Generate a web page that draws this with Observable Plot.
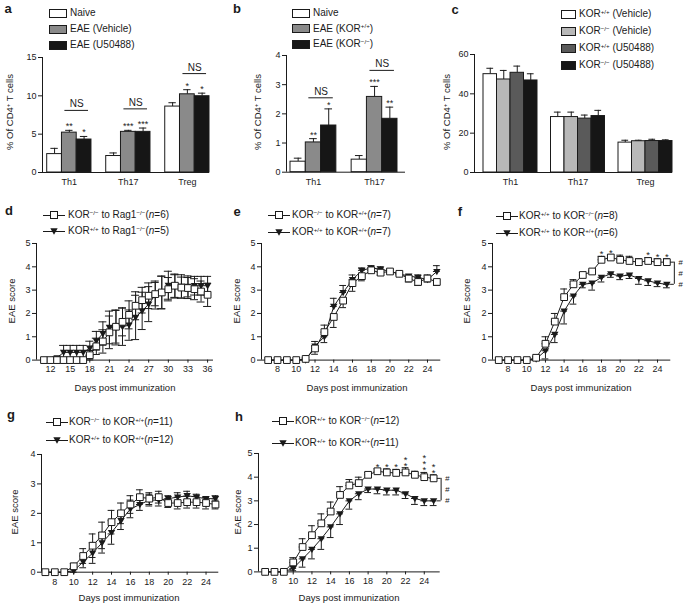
<!DOCTYPE html>
<html><head><meta charset="utf-8">
<script src="https://cdn.jsdelivr.net/npm/d3@7"></script>
<script src="https://cdn.jsdelivr.net/npm/@observablehq/plot@0.6"></script>
<style>
body{margin:0;background:#fff;}
#root{position:relative;width:685px;height:605px;overflow:hidden;font-family:"Liberation Sans",Arial,Helvetica,sans-serif;color:#1a1a1a;background:#fff;}
.t{position:absolute;white-space:nowrap;line-height:1;}
.t sup{font-size:0.62em;vertical-align:0;position:relative;top:-0.5em;}
</style></head><body><div id="root"></div>
<script>
// ---------- Panel a ----------
const aGroups = ["Th1", "Th17", "Treg"];
const aSeries = ["Naive", "EAE (Vehicle)", "EAE (U50488)"];
const aMean = [[2.4, 5.2, 4.3], [2.15, 5.3, 5.3], [8.6, 10.2, 9.95]];
const aErr = [[0.75, 0.3, 0.4], [0.4, 0.2, 0.5], [0.5, 0.6, 0.4]];
const aStars = [["", "**", "*"], ["", "***", "***"], ["", "*", "*"]];
const aNS = [8.1, 8.3, 12.9];
const aYTicks = [0, 5, 10, 15];
// ---------- Panel b ----------
const bGroups = ["Th1", "Th17"];
const bSeries = ["Naive", "EAE (KOR+/+)", "EAE (KOR−/−)"];
const bMean = [[0.36, 1.02, 1.6], [0.43, 2.58, 1.83]];
const bErr = [[0.12, 0.13, 0.57], [0.14, 0.36, 0.4]];
const bStars = [["", "**", "*"], ["", "***", "**"]];
const bNS = [2.55, 3.49];
const bYTicks = [0, 1, 2, 3, 4];
// ---------- Panel c ----------
const cGroups = ["Th1", "Th17", "Treg"];
const cSeries = ["KOR+/+ (Vehicle)", "KOR−/− (Vehicle)", "KOR+/+ (U50488)", "KOR−/− (U50488)"];
const cMean = [[50, 47.3, 50.7, 46.8], [28.2, 28.2, 27.4, 28.7], [15.2, 15.9, 16.0, 16.0]];
const cErr = [[3, 4.6, 3.4, 3.4], [2.5, 2.5, 1.8, 2.9], [1.2, 0.5, 0.9, 0.6]];
const cYTicks = [0, 20, 40, 60];

const barColors3 = ["#ffffff", "#8a8a8a", "#161616"];
const barColors4 = ["#ffffff", "#b8b8b8", "#5a5a5a", "#161616"];

// ---------- Panel d ----------
const dDays = [11,12,13,14,15,16,17,18,19,20,21,22,23,24,25,26,27,28,29,30,31,32,33,34,35,36];
const dSq    = [0,0,0,0,0,0,0, 0.21,0.59,0.8,1.19,1.43,1.64,1.94,2.33,2.57,2.76,2.83,2.9,3.04,3.19,3.11,3.09,3.04,2.94,2.8];
const dSqErr = [0,0,0,0,0,0,0, 0.2,0.35,0.5,0.7,0.7,0.6,0.6,0.6,0.55,0.55,0.5,0.7,0.5,0.5,0.45,0.45,0.45,0.45,0.5];
const dTri   = [0,0,0.1,0.33,0.33,0.33,0.33, 0.51,0.83,1.14,1.4,1.4,1.43,1.5,1.83,2.11,2.4,2.79,2.9,3.21,3.16,3.16,3.16,3.19,3.19,3.19];
const dTriErr= [0,0,0.05,0.3,0.3,0.3,0.3, 0.3,0.4,0.5,0.7,0.75,0.8,0.65,0.95,0.8,0.75,0.6,0.7,0.6,0.5,0.5,0.45,0.4,0.4,0.4];
const dLabels = ["KOR−/− to Rag1−/−(n=6)", "KOR+/+ to Rag1−/−(n=5)"];
const dXTicks = [12, 15, 18, 21, 24, 27, 30, 33, 36];

// ---------- Panels e–h share days 7–25 ----------
const days7to25 = [7,8,9,10,11,12,13,14,15,16,17,18,19,20,21,22,23,24,25];
const evenTicks = [8, 10, 12, 14, 16, 18, 20, 22, 24];

const eSq    = [0,0,0,0,0.05, 0.5,1.2,1.85,2.55,3.3,3.6,3.85,3.75,3.8,3.7,3.5,3.35,3.5,3.35];
const eSqErr = [0,0,0,0,0.05, 0.25,0.3,0.45,0.3,0.35,0.2,0.1,0.1,0.1,0.05,0.15,0.15,0.15,0.15];
const eTri   = [0,0,0,0,0, 0.6,1.0,2.3,2.9,3.45,3.85,3.95,3.9,3.8,3.7,3.6,3.55,3.45,3.8];
const eTriErr= [0,0,0,0,0, 0.2,0.25,0.35,0.3,0.2,0.1,0.1,0.1,0.05,0.05,0.05,0.1,0.1,0.25];
const eLabels = ["KOR−/− to KOR+/+(n=7)", "KOR+/+ to KOR+/+(n=7)"];

const fSq    = [0,0,0,0, 0.1,0.7,1.65,2.7,3.25,3.65,3.8,4.3,4.4,4.3,4.25,4.2,4.25,4.2,4.2];
const fSqErr = [0,0,0,0, 0.05,0.3,0.35,0.35,0.2,0.1,0.05,0.15,0.1,0.2,0.2,0.15,0.15,0.15,0.15];
const fTri   = [0,0,0,0, 0.05,0.4,1.1,2.1,2.75,3.25,3.3,3.55,3.7,3.6,3.65,3.5,3.4,3.3,3.25];
const fTriErr= [0,0,0,0, 0.05,0.35,0.35,0.55,0.35,0.15,0.3,0.2,0.15,0.15,0.15,0.25,0.2,0.15,0.15];
const fStarDays = [18, 19, 23, 24, 25];
const fStarCounts = [1, 1, 1, 1, 1];
const fLabels = ["KOR+/+ to KOR−/−(n=8)", "KOR+/+ to KOR+/+(n=6)"];

const gSq    = [0,0,0, 0.2,0.55,0.9,1.25,1.7,2.0,2.3,2.55,2.5,2.55,2.35,2.35,2.38,2.38,2.35,2.3];
const gSqErr = [0,0,0, 0.1,0.25,0.4,0.45,0.4,0.35,0.3,0.25,0.2,0.2,0.15,0.2,0.2,0.2,0.2,0.15];
const gTri   = [0,0,0, 0.05,0.35,0.65,1.0,1.35,1.75,2.15,2.3,2.45,2.45,2.5,2.55,2.6,2.55,2.5,2.5];
const gTriErr= [0,0,0, 0.05,0.2,0.35,0.35,0.4,0.3,0.3,0.2,0.2,0.2,0.1,0.15,0.15,0.1,0.05,0.1];
const gLabels = ["KOR−/− to KOR+/+(n=11)", "KOR+/+ to KOR+/+(n=12)"];

const hSq    = [0,0,0, 0.4,1.05,1.55,2.05,2.55,3.25,3.65,3.75,4.1,4.25,4.2,4.18,4.2,4.1,4.0,3.95];
const hSqErr = [0,0,0, 0.2,0.35,0.4,0.4,0.4,0.35,0.25,0.25,0.1,0.1,0.15,0.15,0.2,0.15,0.2,0.15];
const hTri   = [0,0,0, 0.15,0.55,0.95,1.4,1.9,2.45,3.0,3.3,3.5,3.5,3.45,3.45,3.3,3.1,3.0,3.0];
const hTriErr= [0,0,0, 0.1,0.35,0.4,0.45,0.45,0.45,0.35,0.25,0.15,0.2,0.2,0.2,0.2,0.25,0.2,0.2];
const hStarDays = [19, 20, 21, 22, 24, 25];
const hStarCounts = [1, 1, 1, 2, 3, 2];
const hLabels = ["KOR+/+ to KOR−/−(n=12)", "KOR+/+ to KOR+/+(n=11)"];

const yLabelBar = "% Of CD4+ T cells";
const yLabelLine = "EAE score";
const xLabelLine = "Days post immunization";

// ---------- helpers ----------
const FONT = '"Liberation Sans", Arial, Helvetica, sans-serif';
const INK = "#1a1a1a";
const root = document.getElementById("root");

function fmt(s) {
  return s.replace(/(KOR|Rag1)([+−]\/[+−])/g, "$1<sup>$2</sup>")
          .replace("CD4+", "CD4<sup>+</sup>")
          .replace("(n=", "(<i>n</i>=");
}
function place(el, left, top) {
  el.style.position = "absolute";
  el.style.left = left + "px";
  el.style.top = top + "px";
  root.appendChild(el);
}
function label(html, x, y, o = {}) {
  const d = document.createElement("div");
  d.className = "t";
  d.innerHTML = html;
  d.style.fontSize = (o.size || 9) + "px";
  if (o.bold) d.style.fontWeight = "bold";
  if (o.rotate) d.style.transform = `translate(-50%,-50%) rotate(${o.rotate}deg)`;
  else d.style.transform = o.anchor === "start" ? "translate(0,-50%)" : "translate(-50%,-50%)";
  place(d, x, y);
}
function swatch(x, y, w, h, color) {
  const d = document.createElement("div");
  d.style.width = (w - 2) + "px"; d.style.height = (h - 2) + "px";
  d.style.background = color; d.style.border = "1px solid " + INK;
  place(d, x, y - h / 2);
}
function lineKey(x, y, kind) {
  const d = document.createElement("div");
  const mk = kind === "sq"
    ? '<rect x="7.5" y="1.5" width="7" height="7" fill="#fff" stroke="#1a1a1a"/>'
    : '<path d="M7.3,2.2 L14.7,2.2 L11,8.8 Z" fill="#1a1a1a"/>';
  d.innerHTML = `<svg width="22" height="10" style="display:block"><line x1="0" y1="5.5" x2="22" y2="5.5" stroke="#1a1a1a"/>${mk}</svg>`;
  place(d, x, y - 5);
}
const baseStyle = {background: "transparent", fontFamily: FONT, fontSize: "9px", overflow: "visible", maxWidth: "none", color: INK};
const intFmt = d => String(d);

function barPanel(p) {
  const n = p.series.length, step = n + 1, nSlots = p.groups.length * step - 1;
  const slotW = (p.barEnd - p.barStart) / nSlots;
  const xDom = [-(p.barStart - p.axisLeft) / slotW, nSlots + (p.axisRight - p.barEnd) / slotW];
  const rows = [];
  p.groups.forEach((g, gi) => p.series.forEach((s, si) => rows.push({
    gi, si, slot: gi * step + si, v: p.mean[gi][si], e: p.err[gi][si],
    star: p.stars ? p.stars[gi][si] : "", fill: p.colors[si]
  })));
  const ns = p.ns ? p.groups.map((g, gi) => ({y: p.ns[gi], x1: gi * step + 1 + 0.2, x2: gi * step + n - 1 + 0.8, xm: gi * step + n / 2 + 0.5})) : [];
  const ml = 40, mr = 12, mt = 14, mb = 22;
  const chart = Plot.plot({
    width: p.axisRight - p.axisLeft + ml + mr, height: p.bottom - p.top + mt + mb,
    marginLeft: ml, marginRight: mr, marginTop: mt, marginBottom: mb,
    style: baseStyle,
    x: {type: "linear", domain: xDom, ticks: p.groups.map((g, i) => i * step + n / 2),
        tickFormat: d => p.groups[Math.round((d - n / 2) / step)], tickSize: 0, tickPadding: 6, label: null},
    y: {domain: p.yDomain, ticks: p.yTicks, tickFormat: intFmt, tickSize: 4, tickPadding: 2, label: null},
    color: {type: "identity"},
    marks: [
      Plot.ruleX(rows, {x: d => d.slot + 0.5, y1: "v", y2: d => d.v + d.e, stroke: INK}),
      Plot.ruleY(rows, {y: d => d.v + d.e, x1: d => d.slot + 0.25, x2: d => d.slot + 0.75, stroke: INK}),
      Plot.rect(rows, {x1: "slot", x2: d => d.slot + 1, y1: 0, y2: "v", fill: "fill", stroke: INK, strokeWidth: 1}),
      Plot.text(rows.filter(d => d.star), {x: d => d.slot + 0.5, y: d => d.v + d.e, text: "star", lineAnchor: "bottom", dy: -1, fontSize: 9}),
      Plot.ruleY(ns, {y: "y", x1: "x1", x2: "x2", stroke: INK}),
      Plot.text(ns, {x: "xm", y: "y", text: () => "NS", lineAnchor: "bottom", dy: -3, fontSize: 10}),
      Plot.ruleY([0], {stroke: INK}),
      Plot.ruleX([xDom[0]], {stroke: INK})
    ]
  });
  place(chart, p.axisLeft - ml, p.top - mt);
}

const triDown = {
  draw(ctx, size) {
    const r = Math.sqrt(size / Math.PI);
    ctx.moveTo(-r, -0.7 * r); ctx.lineTo(r, -0.7 * r); ctx.lineTo(0, r); ctx.closePath();
  }
};

function linePanel(p) {
  const sqRows = p.days.map((d, i) => ({day: d, v: p.sq[i], e: p.sqErr[i], other: p.tri[i]}));
  const trRows = p.days.map((d, i) => ({day: d, v: p.tri[i], e: p.triErr[i], other: p.sq[i]}));
  const pxPerDay = (p.right - p.left) / (p.xDomain[1] - p.xDomain[0]);
  const cap = p.capPx / pxPerDay;
  function whisk(rows, isSq) {
    return rows.filter(d => d.e > 0).map(d => {
      let lo = d.v - d.e, hi = d.v + d.e;
      if (!p.symmetric) {
        const up = isSq ? d.v >= d.other : d.v > d.other;
        if (up) lo = d.v; else hi = d.v;
      }
      return {day: d.day, lo, hi};
    });
  }
  const wk = whisk(sqRows, true).concat(whisk(trRows, false));
  const capsRows = wk.flatMap(d => [{day: d.day, y: d.lo}, {day: d.day, y: d.hi}]);
  const stars = [];
  (p.starDays || []).forEach((day, i) => {
    const j = p.days.indexOf(day);
    stars.push({day, y: p.sq[j] + p.sqErr[j], count: p.starCounts[i]});
  });
  const marks = [
    Plot.ruleY([0], {stroke: INK}),
    Plot.ruleX([p.xDomain[0]], {stroke: INK}),
    Plot.line(trRows, {x: "day", y: "v", stroke: INK, strokeWidth: 1}),
    Plot.line(sqRows, {x: "day", y: "v", stroke: INK, strokeWidth: 1}),
    Plot.ruleX(wk, {x: "day", y1: "lo", y2: "hi", stroke: INK, strokeWidth: 1}),
    Plot.ruleY(capsRows, {y: "y", x1: d => d.day - cap, x2: d => d.day + cap, stroke: INK, strokeWidth: 1}),
    Plot.dot(trRows, {x: "day", y: "v", symbol: triDown, r: 3.7, fill: INK, stroke: "none"}),
    Plot.dot(sqRows, {x: "day", y: "v", symbol: "square", r: 3.8, fill: "#fff", stroke: INK, strokeWidth: 1})
  ];
  for (let k = 0; k < 3; k++) {
    const lvl = stars.filter(s => s.count > k);
    if (lvl.length) marks.push(Plot.text(lvl, {x: "day", y: "y", text: () => "*", lineAnchor: "bottom", dy: 1 - 6 * k, fontSize: 9.5}));
  }
  if (p.hash) {
    const last = p.days.length - 1, ld = p.days[last];
    const a = p.sq[last], b = p.tri[last];
    marks.push(
      Plot.ruleX([{x: ld + 0.8, y1: b, y2: a}], {x: "x", y1: "y1", y2: "y2", stroke: INK}),
      Plot.ruleY([a, b], {y: d => d, x1: ld + 0.4, x2: ld + 0.8, stroke: INK}),
      Plot.text([a, (a + b) / 2, b], {x: ld + 1.45, y: d => d, text: () => "#", fontSize: 8, fontStyle: "italic"})
    );
  }
  const ml = 30, mr = 20, mt = 10, mb = 22;
  const chart = Plot.plot({
    width: p.right - p.left + ml + mr, height: p.bottom - p.top + mt + mb,
    marginLeft: ml, marginRight: mr, marginTop: mt, marginBottom: mb,
    style: baseStyle,
    x: {domain: p.xDomain, ticks: p.xTicks, tickFormat: intFmt, tickSize: 3, tickPadding: 3, label: null},
    y: {domain: p.yDomain, ticks: p.yTicks, tickFormat: intFmt, tickSize: 4, tickPadding: 2, label: null},
    marks
  });
  place(chart, p.left - ml, p.top - mt);
}

// ---------- bar panels ----------
barPanel({groups: aGroups, series: aSeries, mean: aMean, err: aErr, stars: aStars, ns: aNS, colors: barColors3,
  yDomain: [0, 15], yTicks: aYTicks, axisLeft: 42, barStart: 46.7, barEnd: 209, axisRight: 209, top: 56.7, bottom: 171.7});
barPanel({groups: bGroups, series: bSeries, mean: bMean, err: bErr, stars: bStars, ns: bNS, colors: barColors3,
  yDomain: [0, 4], yTicks: bYTicks, axisLeft: 286, barStart: 290, barEnd: 397, axisRight: 405, top: 55, bottom: 171.7});
barPanel({groups: cGroups, series: cSeries, mean: cMean, err: cErr, colors: barColors4,
  yDomain: [0, 60], yTicks: cYTicks, axisLeft: 474, barStart: 483, barEnd: 672, axisRight: 672, top: 53.5, bottom: 171.5});

// ---------- line panels ----------
linePanel({days: dDays, sq: dSq, sqErr: dSqErr, tri: dTri, triErr: dTriErr, symmetric: true, capPx: 4,
  left: 36, right: 213, top: 242.7, bottom: 359.3, xDomain: [9.86, 36.9], yDomain: [0, 5], xTicks: dXTicks, yTicks: [0,1,2,3,4,5]});
linePanel({days: days7to25, sq: eSq, sqErr: eSqErr, tri: eTri, triErr: eTriErr, capPx: 3.4,
  left: 260.7, right: 440, top: 242.7, bottom: 359.3, xDomain: [6.29, 25.42], yDomain: [0, 5], xTicks: evenTicks, yTicks: [0,1,2,3,4,5]});
linePanel({days: days7to25, sq: fSq, sqErr: fSqErr, tri: fTri, triErr: fTriErr, capPx: 3.4, starDays: fStarDays, starCounts: fStarCounts, hash: true,
  left: 491.7, right: 670, top: 242.7, bottom: 359.3, xDomain: [6.33, 25.42], yDomain: [0, 5], xTicks: evenTicks, yTicks: [0,1,2,3,4,5]});
linePanel({days: days7to25, sq: gSq, sqErr: gSqErr, tri: gTri, triErr: gTriErr, symmetric: true, capPx: 3.4,
  left: 40.7, right: 218, top: 454, bottom: 571.7, xDomain: [6.59, 25.35], yDomain: [0, 4], xTicks: evenTicks, yTicks: [0,1,2,3,4]});
linePanel({days: days7to25, sq: hSq, sqErr: hSqErr, tri: hTri, triErr: hTriErr, capPx: 3.4, starDays: hStarDays, starCounts: hStarCounts, hash: true,
  left: 258.3, right: 440, top: 453.3, bottom: 571.7, xDomain: [6.29, 25.7], yDomain: [0, 5], xTicks: evenTicks, yTicks: [0,1,2,3,4,5]});

// ---------- panel letters ----------
[["a", 8, 8], ["b", 237, 8], ["c", 455, 9], ["d", 9, 210], ["e", 237, 211], ["f", 460, 211], ["g", 11, 414], ["h", 239, 416]]
  .forEach(([t, x, y]) => label(t, x, y, {size: 13, bold: true}));

// ---------- bar legends ----------
aSeries.forEach((s, i) => { swatch(49, [13, 29, 45][i], 18, 9, barColors3[i]); label(fmt(s), 70, [13, 29, 45][i], {size: 10, anchor: "start"}); });
bSeries.forEach((s, i) => { swatch(292, [13, 28.5, 44][i], 18, 9, barColors3[i]); label(fmt(s), 313, [13, 28.5, 44][i], {size: 10, anchor: "start"}); });
cSeries.forEach((s, i) => { swatch(561, [14, 31, 48, 65][i], 15, 9, barColors4[i]); label(fmt(s), 579, [14, 31, 48, 65][i], {size: 10, anchor: "start"}); });

// ---------- line legends ----------
[[dLabels, 43, 68, [215, 231]], [eLabels, 268, 292, [215, 232]], [fLabels, 496, 519, [216, 233]],
 [gLabels, 46, 69, [422, 440]], [hLabels, 272, 295, [421, 443]]].forEach(([labs, mx, tx, ys]) => {
  labs.forEach((s, i) => { lineKey(mx, ys[i], i === 0 ? "sq" : "tri"); label(fmt(s), tx, ys[i], {size: 10, anchor: "start"}); });
});

// ---------- axis titles ----------
[[10, 112], [257.7, 112], [447, 112]].forEach(([x, y]) => label(fmt(yLabelBar), x, y, {size: 9.5, rotate: -90}));
[[12, 301], [237, 301], [467, 301], [15, 512], [238, 512]].forEach(([x, y]) => label(yLabelLine, x, y, {size: 9.5, rotate: -90}));
[[125, 388], [357, 388], [581, 388], [129, 598], [349, 598]].forEach(([x, y]) => label(xLabelLine, x, y, {size: 9.5}));
</script></body></html>
